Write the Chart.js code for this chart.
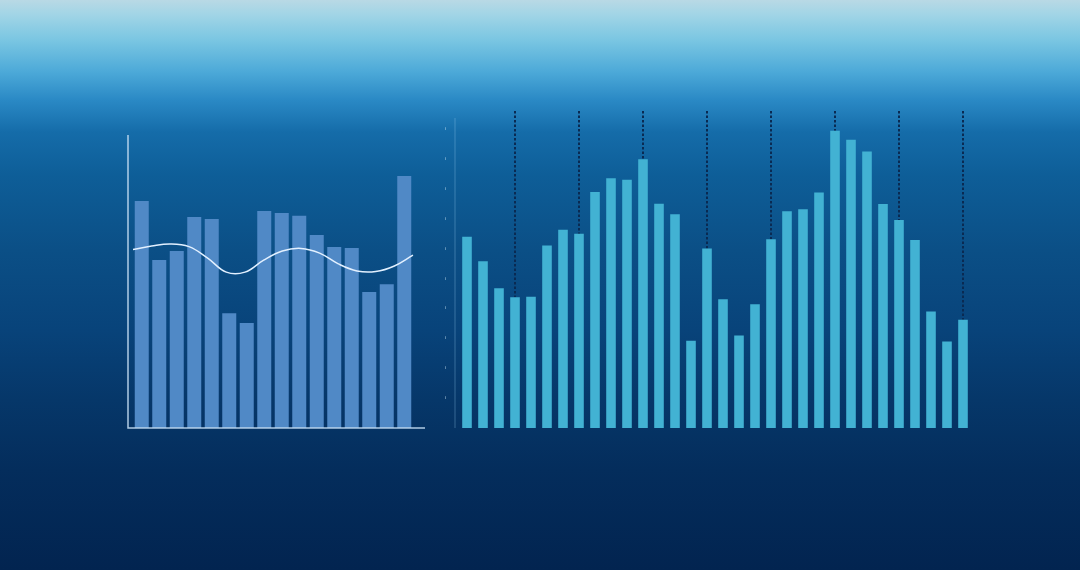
<!DOCTYPE html>
<html>
<head>
<meta charset="utf-8">
<script src="https://cdn.jsdelivr.net/npm/chart.js@4.4.0/dist/chart.umd.min.js"></script>
<style>
  html, body { margin: 0; padding: 0; }
  body {
    width: 1080px; height: 570px; overflow: hidden; position: relative;
    background: linear-gradient(to bottom, #b9d9e5 0px, #a2d5e6 14px, #7ac6e2 40px, #4ca9d8 72px, #2a89c5 100px,
      #156ca9 132px, #0e5e98 175px, #0b4f86 250px, #08437a 330px, #063769 400px, #042d5c 470px, #022450 570px);
  }
  #left { position: absolute; left: 120px; top: 120px; }
  #right { position: absolute; left: 430px; top: 100px; }
</style>
</head>
<body>
<canvas id="left" width="320" height="320"></canvas>
<canvas id="right" width="560" height="340"></canvas>
<script>
//Left chart data
var leftLabels = ['1','2','3','4','5','6','7','8','9','10','11','12','13','14','15','16'];
var leftBars = [77.5, 57.3, 60.4, 72, 71.3, 39.2, 35.8, 74.1, 73.4, 72.4, 65.9, 61.8, 61.4, 46.4, 49.1, 86];
var leftLine = [60.9, 62.1, 62.8, 61.9, 58.0, 53.2, 53.2, 57.3, 60.4, 61.3, 59.7, 56.0, 53.6, 53.4, 55.3, 59.0];

//Right chart data
var rightLabels = [];
for (var i = 1; i <= 32; i++) rightLabels.push(String(i));
var rightBars = [64.0, 55.8, 46.7, 43.7, 43.9, 61.0, 66.3, 65.0, 78.9, 83.5, 83.0, 89.9, 75.0, 71.5, 29.2, 60.0,
                 43.1, 30.9, 41.4, 63.1, 72.5, 73.2, 78.8, 99.4, 96.4, 92.5, 74.9, 69.6, 62.9, 39.0, 28.9, 36.2];
var rightTicks = [10, 20, 30, 40, 50, 60, 70, 80, 90, 100];

Chart.defaults.animation = false;

// axis lines of the left chart, a bit longer than the plot area
var leftAxes = {
  id: 'leftAxes',
  afterDraw: function(chart) {
    var a = chart.chartArea, c = chart.ctx;
    c.save();
    c.strokeStyle = 'rgba(195,220,242,0.9)';
    c.lineWidth = 1.5;
    c.beginPath();
    c.moveTo(a.left - 5, a.top);
    c.lineTo(a.left - 5, a.bottom);
    c.lineTo(a.right + 12, a.bottom);
    c.stroke();
    c.restore();
  }
};

new Chart(document.getElementById('left').getContext('2d'), {
  type: 'bar',
  data: {
    labels: leftLabels,
    datasets: [{
      type: 'line',
      data: leftLine,
      xAxisID: 'x2',
      borderColor: '#e2f0ff',
      borderWidth: 1.5,
      pointRadius: 0,
      tension: 0.4,
      order: 0
    }, {
      data: leftBars,
      backgroundColor: '#5089c6',
      barPercentage: 0.8,
      categoryPercentage: 1,
      grouped: false,
      order: 1
    }]
  },
  options: {
    responsive: false,
    layout: { padding: { left: 13, right: 27, top: 15, bottom: 12 } },
    plugins: { legend: { display: false }, tooltip: { enabled: false } },
    scales: {
      x: { display: false },
      x2: { display: false, offset: false, labels: leftLabels },
      y: { display: false, min: 0, max: 100 }
    }
  },
  plugins: [leftAxes]
});

// dotted drop lines on every 4th bar and the faint y axis line
var dropLines = {
  id: 'dropLines',
  beforeDatasetsDraw: function(chart) {
    var a = chart.chartArea, c = chart.ctx;
    var meta = chart.getDatasetMeta(0);
    c.save();
    c.strokeStyle = 'rgba(150,200,235,0.35)';
    c.lineWidth = 1;
    c.beginPath();
    c.moveTo(a.left - 4, a.top - 11);
    c.lineTo(a.left - 4, a.bottom);
    c.stroke();
    c.strokeStyle = '#0a2a52';
    c.lineWidth = 2;
    c.setLineDash([2.5, 2]);
    for (var i = 3; i < meta.data.length; i += 4) {
      var bar = meta.data[i];
      c.beginPath();
      c.moveTo(bar.x, a.top - 18);
      c.lineTo(bar.x, bar.y);
      c.stroke();
    }
    c.restore();
  }
};

new Chart(document.getElementById('right').getContext('2d'), {
  type: 'bar',
  data: {
    labels: rightLabels,
    datasets: [{
      data: rightBars,
      backgroundColor: '#42b2d3',
      barPercentage: 0.6,
      categoryPercentage: 1
    }]
  },
  options: {
    responsive: false,
    layout: { padding: { left: 15, right: 19, top: 29, bottom: 12 } },
    plugins: { legend: { display: false }, tooltip: { enabled: false } },
    scales: {
      x: { display: false },
      y: {
        min: 0, max: 100,
        grid: { display: false },
        border: { display: false },
        afterFit: function(axis) { axis.width = 14; },
        afterBuildTicks: function(axis) {
          axis.ticks = rightTicks.map(function(v) { return { value: v }; });
        },
        ticks: {
          padding: 5,
          color: 'rgba(215,238,252,0.9)',
          font: { size: 4, family: 'DejaVu Sans' }
        }
      }
    }
  },
  plugins: [dropLines]
});
</script>
</body>
</html>
